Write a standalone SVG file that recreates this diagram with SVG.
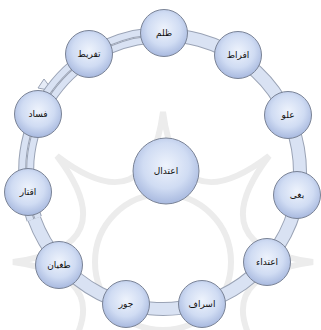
<svg xmlns="http://www.w3.org/2000/svg" width="321" height="330" viewBox="0 0 321 330">
<defs>
<radialGradient id="ng" cx="50%" cy="42%" r="58%">
<stop offset="0" stop-color="#eef3fc"/>
<stop offset="0.6" stop-color="#d0dcf3"/>
<stop offset="1" stop-color="#a8b9df"/>
</radialGradient>
<style>
.edge{fill:none;stroke:#9aa3b5}
.band{fill:none;stroke:#d9e2f3}
.node circle{fill:url(#ng);stroke:#7a8396;stroke-width:1}
.node text{font-family:"DejaVu Sans",sans-serif;font-size:9px;fill:#111111;text-anchor:middle;dominant-baseline:central}
.wm{fill:none;stroke:#ececec;stroke-width:6}
</style>
</defs>
<rect width="321" height="330" fill="#ffffff"/>
<g id="watermark">
<path class="wm" d="M313 262 Q200 246.7 269.1 155.9 Q178.3 225 163 112 Q147.7 225 56.9 155.9 Q126 246.7 13 262 Q126 277.3 56.9 368.1 Q147.7 299 163 412 Q178.3 299 269.1 368.1 Q200 277.3 313 262 Z"/>
<circle class="wm" cx="163" cy="262" r="68"/>
</g>
<g id="connectors">
<polygon points="38,88 44,79 53,91" fill="#e6ecf7" stroke="#9aa3b5" stroke-width="1"/>
<path class="edge" stroke-width="14" d="M151.05 35.52 A137 137 0 1 1 34.26 218.85"/>
<path class="band" stroke-width="12" d="M151.05 35.52 A137 137 0 1 1 34.26 218.85"/>
<path class="edge" stroke-width="8" d="M30.50 220.22 A141 141 0 0 1 150.71 31.54"/>
<path class="band" stroke-width="6" d="M30.50 220.22 A141 141 0 0 1 150.71 31.54"/>
<path class="edge" stroke-width="8" d="M38.02 217.49 A133 133 0 0 1 151.41 39.51"/>
<path class="band" stroke-width="6" d="M38.02 217.49 A133 133 0 0 1 151.41 39.51"/>
</g>
<g id="n0" class="node"><circle cx="164" cy="33" r="23.5"/><text x="164" y="33">ظلم</text></g>
<g id="n1" class="node"><circle cx="238" cy="55" r="23.5"/><text x="238" y="55">افراط</text></g>
<g id="n2" class="node"><circle cx="288" cy="115" r="23.5"/><text x="288" y="115">علو</text></g>
<g id="n3" class="node"><circle cx="297" cy="195" r="23.5"/><text x="297" y="195">بغی</text></g>
<g id="n4" class="node"><circle cx="267" cy="262" r="23.5"/><text x="267" y="262">اعتداء</text></g>
<g id="n5" class="node"><circle cx="202" cy="304" r="23.5"/><text x="202" y="304">اسراف</text></g>
<g id="n6" class="node"><circle cx="126" cy="304" r="23.5"/><text x="126" y="304">جور</text></g>
<g id="n7" class="node"><circle cx="59" cy="265" r="23.5"/><text x="59" y="265">طغیان</text></g>
<g id="n8" class="node"><circle cx="28" cy="192" r="23.5"/><text x="28" y="192">اقتار</text></g>
<g id="n9" class="node"><circle cx="38" cy="114" r="23.5"/><text x="38" y="114">فساد</text></g>
<g id="n10" class="node"><circle cx="89" cy="54" r="23.5"/><text x="89" y="54">تفریط</text></g>
<g id="center" class="node"><circle cx="166" cy="171" r="33"/><text x="166" y="171">اعتدال</text></g>
</svg>
